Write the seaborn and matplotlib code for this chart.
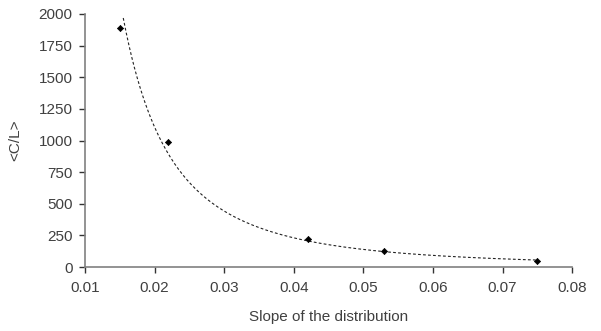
import numpy as np
import pandas as pd
import seaborn as sns
import matplotlib
matplotlib.use("Agg")
import matplotlib.pyplot as plt

slope = [0.015, 0.022, 0.042, 0.053, 0.075]
cl = [1890, 990, 220, 130, 50]
x_ticks = [0.01, 0.02, 0.03, 0.04, 0.05, 0.06, 0.07, 0.08]
y_ticks = [0, 250, 500, 750, 1000, 1250, 1500, 1750, 2000]

sns.set_theme(style="white")
plt.rcParams['font.family'] = ['Liberation Sans', 'DejaVu Sans']

df = pd.DataFrame({"slope": slope, "cl": cl})

fig = plt.figure(figsize=(6.01, 3.31), dpi=100)
ax = fig.add_axes([0.1414, 0.193, 0.8106, 0.765])

# power-law trendline fitted to the data
b, lna = np.polyfit(np.log(slope), np.log(cl), 1)
xs = np.linspace(0.0153, 0.075, 300)
ys = np.exp(lna) * xs ** b
mask = ys <= 2000
ax.plot(xs[mask], ys[mask], linestyle=(0, (2.5, 2)), color="#222222", linewidth=0.8)

sns.scatterplot(data=df, x="slope", y="cl", ax=ax, marker="D", s=10,
                color="black", edgecolor="black", linewidth=0.5, zorder=3)

ax.set_xlim(0.01, 0.08)
ax.set_ylim(0, 2000)
ax.set_xticks(x_ticks)
ax.set_xticklabels([f"{v:.2f}" for v in x_ticks])
ax.set_yticks(y_ticks)
ax.set_yticklabels([str(v) for v in y_ticks])
for s in ["top", "right"]:
    ax.spines[s].set_visible(False)
for s in ["left", "bottom"]:
    ax.spines[s].set_color("#808080")
    ax.spines[s].set_linewidth(1.2)
ax.tick_params(axis="both", direction="out", length=4, width=1, color="#333333",
               labelsize=11, labelcolor="#404040", left=True, bottom=True)
ax.tick_params(axis="x", pad=6)
ax.tick_params(axis="y", pad=5)
ax.set_xlabel("Slope of the distribution", fontsize=11, color="#404040", labelpad=11)
ax.set_ylabel("<C/L>", fontsize=11, color="#404040", labelpad=12)

fig.savefig("out.png", dpi=100)
